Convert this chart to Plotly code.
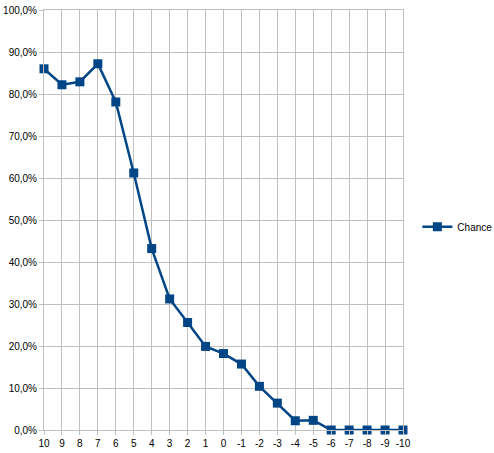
import plotly.graph_objects as go

categories = ["10", "9", "8", "7", "6", "5", "4", "3", "2", "1", "0",
              "-1", "-2", "-3", "-4", "-5", "-6", "-7", "-8", "-9", "-10"]
chance = [0.860, 0.822, 0.829, 0.872, 0.781, 0.612, 0.432, 0.312, 0.256, 0.199,
          0.182, 0.157, 0.104, 0.064, 0.022, 0.023, 0.0, 0.0, 0.0, 0.0, 0.0]
y_ticks = [i / 10 for i in range(11)]

fig = go.Figure()
fig.add_trace(go.Scatter(
    x=categories, y=chance, name="Chance", mode="lines+markers",
    line=dict(color="#004586", width=2.5),
    marker=dict(symbol="square", size=9, color="#004586"),
    cliponaxis=False,
))

grid = "#c0c0c0"
fig.update_layout(
    width=494, height=453,
    margin=dict(l=44, r=91, t=10, b=23, autoexpand=False),
    paper_bgcolor="white", plot_bgcolor="white",
    font=dict(family="Liberation Sans, Arial, sans-serif", size=10, color="#000000"),
    separators=",.",
    showlegend=True,
    legend=dict(x=1.04, y=0.484, xanchor="left", yanchor="middle",
                font=dict(size=10), bgcolor="rgba(0,0,0,0)",
                itemwidth=30, tracegroupgap=0),
    xaxis=dict(type="category", range=[0, 20], showgrid=True, gridcolor=grid, gridwidth=1,
               showline=True, linecolor=grid, mirror=True, automargin=False,
               ticks="outside", ticklen=4, tickcolor=grid, tickangle=0,
               zeroline=False),
    yaxis=dict(range=[0, 1], tickvals=y_ticks, tickformat=".1%", automargin=False,
               showgrid=True, gridcolor=grid, gridwidth=1,
               showline=True, linecolor=grid, mirror=True,
               ticks="outside", ticklen=4, tickcolor=grid, zeroline=False),
)

fig.write_html("out.html", config={"displayModeBar": False},
               post_script="document.body.style.margin='0';document.body.style.overflow='hidden';")
